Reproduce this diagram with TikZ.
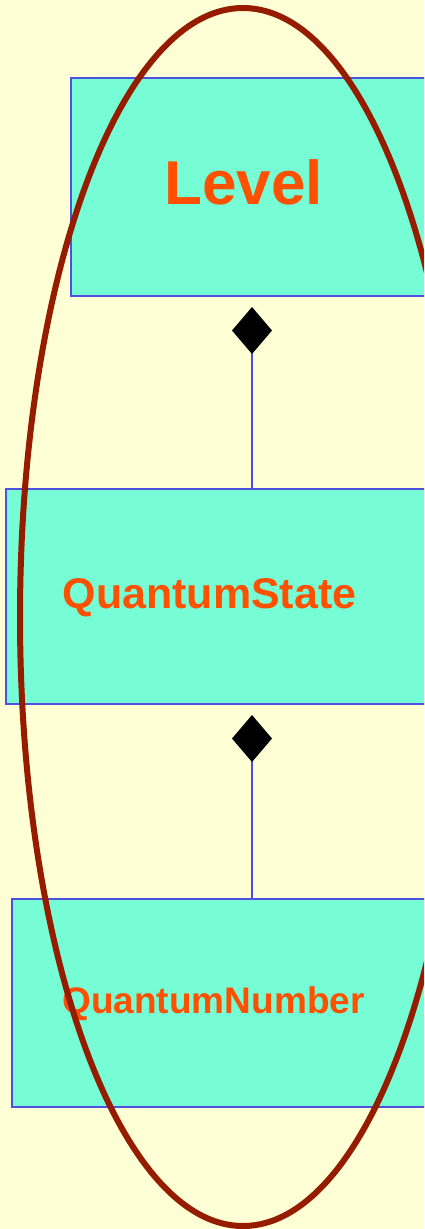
\documentclass[tikz,border=0pt]{standalone}
\usepackage{fontspec}
\setmainfont{Liberation Sans}
\usetikzlibrary{arrows.meta}
\definecolor{bgyellow}{RGB}{255,255,214}
\definecolor{boxfill}{RGB}{118,253,214}
\definecolor{boxline}{RGB}{80,80,224}
\definecolor{txtorange}{RGB}{255,80,0}
\definecolor{ringred}{RGB}{150,28,0}
\tikzstyle{cls}=[shape=rectangle, draw=boxline, fill=boxfill, line width=2pt, inner sep=0]
\tikzstyle{nm}=[text=txtorange, font=\bfseries, anchor=base, inner sep=0]
\tikzstyle{comp}=[draw=boxline, line width=2pt, -{Diamond[length=47pt, width=40pt, color=black]}, shorten >=10pt]

\begin{document}
\begin{tikzpicture}[x=1pt, y=-1pt]
\useasboundingbox (0,0) rectangle (424,1229);
\clip (0,0) rectangle (424,1229);
\fill[bgyellow] (0,0) rectangle (424,1229);
%
\node[cls, minimum width=362pt, minimum height=218pt] (level) at (252,187) {};
\node[cls, minimum width=492pt, minimum height=215pt] (state) at (252,596.5) {};
\node[cls, minimum width=480pt, minimum height=208pt] (number) at (252,1003) {};
%
\node[nm, font=\bfseries\fontsize{62}{62}\selectfont] (levelname) at (243.5,204) {Level};
\node[nm, font=\bfseries\fontsize{43}{43}\selectfont] (statename) at (209.5,608) {QuantumState};
\node[nm, font=\bfseries\fontsize{37}{37}\selectfont] (numbername) at (213.5,1013) {QuantumNumber};
%
\draw[comp] (state.north) -- (level.south);
\draw[comp] (number.north) -- (state.south);
%
\draw[ringred, line width=6pt] (243,617) ellipse [x radius=223, y radius=609];
\end{tikzpicture}
\end{document}
